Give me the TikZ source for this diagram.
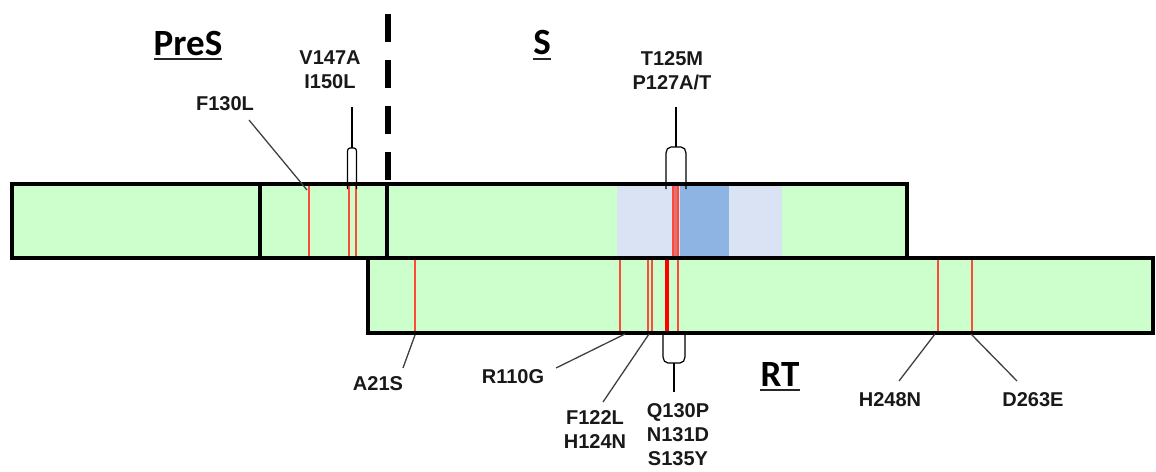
\documentclass[tikz,border=0pt]{standalone}
\usepackage{fontspec}
\setmainfont{Liberation Sans}
\newfontfamily\titlefont{Carlito}
\definecolor{barfill}{HTML}{CCFFCC}
\definecolor{lightblue}{HTML}{DAE3F3}
\definecolor{darkblue}{HTML}{8EB4E3}
\definecolor{mutred}{HTML}{FF4A3A}
\definecolor{pinkband}{HTML}{E0707A}
\definecolor{leadgray}{HTML}{404040}
\begin{document}
\begin{tikzpicture}[x=1pt,y=-1pt,
  bar/.style={draw=black, line width=3.2pt, fill=barfill},
  divider/.style={draw=black, line width=3.2pt},
  mut/.style={draw=mutred, line width=2.2pt},
  thickmut/.style={draw=red, line width=4pt},
  lead/.style={draw=leadgray, line width=1.3pt},
  brk/.style={draw=black, line width=1.2pt},
  lbl/.style={font=\fontsize{20}{24}\selectfont\bfseries, align=center, inner sep=0pt, text=black!90},
  region/.style={font=\titlefont\fontsize{37}{40}\selectfont\bfseries, inner sep=0pt, anchor=base},
  uline/.style={draw=black!85, line width=2.5pt}]
\useasboundingbox (0,0) rectangle (1156,471);

% bars
\path[bar] (12,184) rectangle (907,258);
\path[bar] (368,258) rectangle (1153,333);
% blue regions in S
\fill[lightblue] (617,185.5) rectangle (782,256.5);
\fill[darkblue] (680,185.5) rectangle (729,256.5);
\fill[pinkband] (673,185.5) rectangle (678,256.5);
% mutations top bar
\draw[mut] (309,185.5) -- (309,256.5);
\draw[mut] (349,185.5) -- (349,256.5);
\draw[mut] (356,185.5) -- (356,256.5);
\draw[mut] (673,185.5) -- (673,256.5);
\draw[mut] (678,185.5) -- (678,256.5);
% mutations bottom bar
\draw[mut] (415,259.5) -- (415,331.5);
\draw[mut] (620,259.5) -- (620,331.5);
\draw[mut] (648,259.5) -- (648,331.5);
\draw[mut] (652,259.5) -- (652,331.5);
\draw[thickmut] (667,259.5) -- (667,331.5);
\draw[mut] (678,259.5) -- (678,331.5);
\draw[mut] (938,259.5) -- (938,331.5);
\draw[mut] (972,259.5) -- (972,331.5);
% borders again on top
\draw[line width=3.2pt] (12,184) rectangle (907,258);
\draw[line width=3.2pt] (368,258) rectangle (1153,333);
\draw[divider] (260,184) -- (260,258);
\draw[divider] (387,184) -- (387,258);
% dashed boundary PreS / S
\draw[line width=6pt, dash pattern=on 28pt off 18pt] (388,14) -- (388,186);

% region titles
\node[region] (pres) at (188,55) {PreS};
\node[region] (s) at (542,54) {S};
\node[region] (rt) at (780,386) {RT};
\draw[uline] ([yshift=-4pt]pres.base west) -- ([yshift=-4pt]pres.base east);
\draw[uline] ([yshift=-5pt]s.base west) -- ([yshift=-5pt]s.base east);
\draw[uline] ([yshift=-4pt]rt.base west) -- ([yshift=-4pt]rt.base east);

% labels
\node[lbl] (f130l) at (225,104) {F130L};
\node[lbl] (v147a) at (330,70) {V147A\\I150L};
\node[lbl] (t125m) at (672,71) {T125M\\P127A/T};
\node[lbl] (a21s) at (378,384) {A21S};
\node[lbl] (r110g) at (513,377) {R110G};
\node[lbl] (f122l) at (595,430) {F122L\\H124N};
\node[lbl] (q130p) at (678,435) {Q130P\\N131D\\S135Y};
\node[lbl] (h248n) at (890,400) {H248N};
\node[lbl] (d263e) at (1033,400) {D263E};

% leader coordinates
\coordinate (f130a) at (249,120);  \coordinate (f130b) at (307,190);
\coordinate (a21a) at (403,368);   \coordinate (a21b) at (415,335);
\coordinate (r110a) at (556,368);  \coordinate (r110b) at (625,334);
\coordinate (f122a) at (603,402);  \coordinate (f122b) at (649,334);
\coordinate (h248a) at (899,381);  \coordinate (h248b) at (935,334);
\coordinate (d263a) at (1017,381); \coordinate (d263b) at (971,334);
\draw[lead] (f130a) -- (f130b);
\draw[lead] (a21a) -- (a21b);
\draw[lead] (r110a) -- (r110b);
\draw[lead] (f122a) -- (f122b);
\draw[lead] (h248a) -- (h248b);
\draw[lead] (d263a) -- (d263b);

% brackets
\coordinate (vstem) at (352,107);
\coordinate (vtop) at (352,148);
\draw[brk] (347.5,189) -- (347.5,151) to[out=90,in=180] (350,148) -- (354,148) to[out=0,in=90] (356.5,151) -- (356.5,189);
\draw[lead, draw=black] (vstem) -- (vtop);

\coordinate (tstem) at (676,107);
\coordinate (ttop) at (676,147);
\draw[brk] (666,189) -- (666,153) to[out=90,in=180] (671,147) -- (681,147) to[out=0,in=90] (686,153) -- (686,189);
\draw[lead, draw=black] (tstem) -- (ttop);

\coordinate (qstem) at (674,392);
\coordinate (qbot) at (674,363);
\draw[brk] (663,334) -- (663,357) to[out=-90,in=180] (668,363) -- (680,363) to[out=0,in=-90] (685,357) -- (685,334);
\draw[lead, draw=black] (qbot) -- (qstem);
\end{tikzpicture}
\end{document}
